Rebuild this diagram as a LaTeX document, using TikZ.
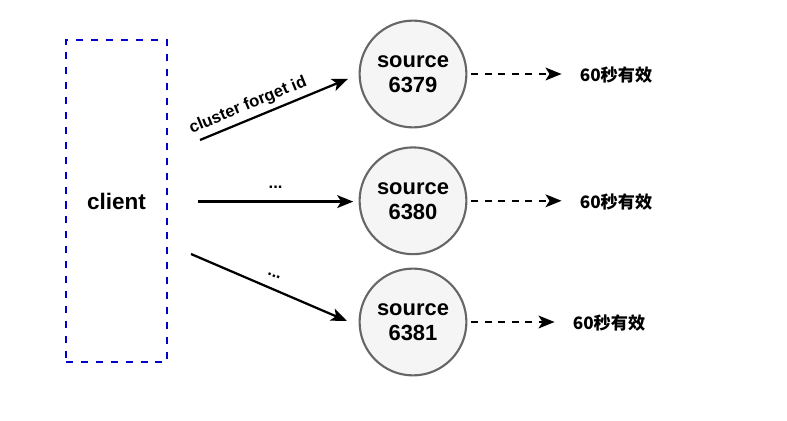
\documentclass[tikz,border=0pt]{standalone}
\usepackage{fontspec}
\setmainfont{Liberation Sans}
\newfontfamily\cjk{Noto Sans CJK SC}
\usetikzlibrary{arrows.meta}
\definecolor{clientblue}{HTML}{0000CC}
\definecolor{srcline}{HTML}{666666}
\definecolor{srcfill}{HTML}{F5F5F5}

\begin{document}
\begin{tikzpicture}[font=\bfseries,
	src/.style={circle,draw=srcline,fill=srcfill,line width=1.5pt,minimum size=2.67cm,align=center,inner sep=0pt,font=\fontsize{15.6}{17.8}\selectfont\bfseries},
	arr/.style={line width=1.6pt,-{Stealth[length=0.4cm,width=0.32cm,inset=0.1cm]}},
	dasharr/.style={arr,dash pattern=on 4.8pt off 4.8pt}]
	\useasboundingbox (0,0) rectangle (19.675,10.5);
	\node[draw=clientblue,line width=1.7pt,dash pattern=on 5pt off 5.6pt,minimum width=2.525cm,minimum height=8.05cm,font=\fontsize{16}{18}\selectfont\bfseries] (client) at (2.9125,5.475) {client}; %client
	\foreach \i/\y/\p/\t in {1/8.65/6379/15.4,2/5.48/6380/15.4,3/2.45/6381/15.225}{ %source
		\node[src] (s\i) at (10.325,\y) {source\\\p};
		\node[inner sep=0pt,font=\fontsize{12.2}{14}\selectfont\cjk\bfseries] (v\i) at (\t,\y-0.02) {60秒有效};
		\draw[dasharr,shorten <=0.1cm,shorten >=0.45cm] (s\i.east) -- (s\i.east -| v\i.west);
	}
	\coordinate (a1) at (5,7.0); \coordinate (b1) at (8.7,8.53); %cluster forget
	\coordinate (a2) at (4.95,5.46); \coordinate (b2) at (8.83,5.46);
	\coordinate (a3) at (4.775,4.15); \coordinate (b3) at (8.675,2.475);
	\draw[arr] (a1) -- (b1) node[pos=0.36,above,sloped,font=\fontsize{11.8}{13}\selectfont\bfseries] (l1) {cluster forget id};
	\draw[arr] (a2) -- (b2) node[midway,above=5pt,font=\fontsize{11.8}{13}\selectfont\bfseries] (l2) {...};
	\draw[arr] (a3) -- (b3) node[midway,above=4pt,sloped,font=\fontsize{11.8}{13}\selectfont\bfseries] (l3) {...};
\end{tikzpicture}
\end{document}
